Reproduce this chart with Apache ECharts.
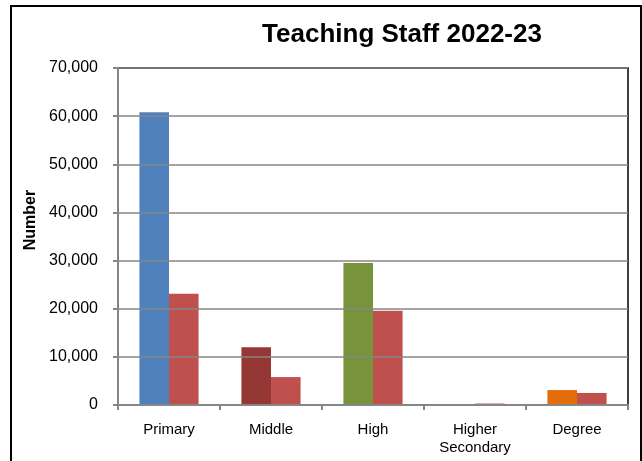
<!DOCTYPE html>
<html>
<head>
<meta charset="utf-8">
<script src="https://cdn.jsdelivr.net/npm/echarts@6/dist/echarts.min.js"></script>
<style>
  html, body { margin: 0; padding: 0; background: #fff; }
  #chart { width: 642px; height: 461px; }
</style>
</head>
<body>
<div id="chart"></div>
<script>
// Teaching staff by level of institution, 2022-23
const categories = ['Primary', 'Middle', 'High', 'Higher\nSecondary', 'Degree'];
const staffA = [60800, 12000, 29500, 0, 3100];
const staffB = [23100, 5800, 19600, 300, 2500];
const levelColors = ['#4F81BD', '#953735', '#77933C', '#8064A2', '#E46C0A'];
const yTicks = { min: 0, max: 70000, interval: 10000 };

const fontFamily = '"Liberation Sans", Arial, sans-serif';
const chart = echarts.init(document.getElementById('chart'));

chart.setOption({
  animation: false,
  backgroundColor: '#fff',
  title: {
    text: 'Teaching Staff 2022-23',
    left: 397,
    top: 17,
    textAlign: 'center',
    textStyle: { fontFamily, fontSize: 26, fontWeight: 'bold', color: '#000' }
  },
  grid: {
    left: 118, right: 14, top: 68, bottom: 56,
    show: true, borderColor: '#000', borderWidth: 1.5, backgroundColor: 'transparent'
  },
  xAxis: {
    type: 'category',
    data: categories,
    axisLine: { lineStyle: { color: '#868686', width: 2 } },
    axisTick: { show: true, length: 5, lineStyle: { color: '#868686', width: 2 } },
    axisLabel: { margin: 16, fontFamily, fontSize: 15, color: '#000', lineHeight: 18 },
    z: 5
  },
  yAxis: {
    type: 'value',
    min: yTicks.min, max: yTicks.max, interval: yTicks.interval,
    axisLine: { show: true, lineStyle: { color: '#868686', width: 2 } },
    axisTick: { show: true, length: 5, lineStyle: { color: '#868686', width: 2 } },
    splitLine: { lineStyle: { color: '#868686', width: 1.5 } },
    axisLabel: {
      margin: 20, fontFamily, fontSize: 16, color: '#000',
      formatter: v => v.toLocaleString('en-US')
    },
    z: 5
  },
  graphic: [
    {
      type: 'rect',
      shape: { x: 11, y: 6, width: 630, height: 470 },
      style: { fill: 'none', stroke: '#000', lineWidth: 2 },
      silent: true
    },
    {
      type: 'text',
      x: 31, y: 220,
      rotation: Math.PI / 2,
      style: {
        text: 'Number', fontFamily, fontSize: 16, fontWeight: 'bold', fill: '#000',
        align: 'center', verticalAlign: 'middle'
      }
    }
  ],
  series: [
    {
      type: 'bar',
      data: staffA.map((v, i) => ({ value: v, itemStyle: { color: levelColors[i] } })),
      barGap: '0%',
      barCategoryGap: '42%',
      z: 3
    },
    {
      type: 'bar',
      data: staffB,
      itemStyle: { color: '#C0504D' },
      barGap: '0%',
      barCategoryGap: '42%',
      z: 3
    }
  ]
});
</script>
</body>
</html>
